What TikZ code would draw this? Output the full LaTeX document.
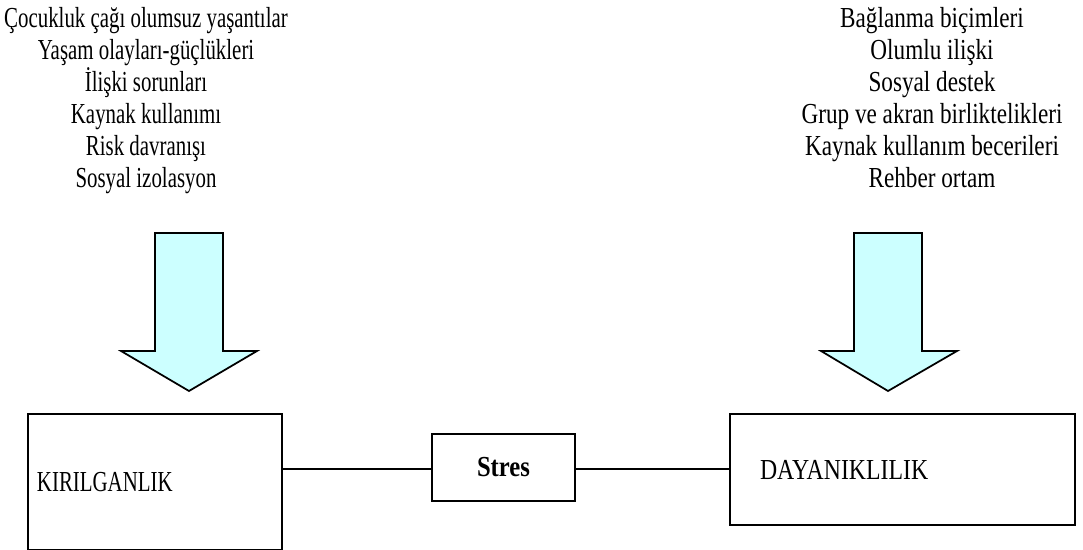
\documentclass[tikz,border=0pt]{standalone}
\usepackage{graphicx}
\usepackage{fontspec}
\setmainfont{Liberation Serif}
\usetikzlibrary{positioning}
\definecolor{arrowcyan}{RGB}{204,255,255}

% text in the figure is set tall and narrow
\newcommand{\narrowtext}[2][0.72]{\scalebox{#1}[1]{#2}}

\tikzstyle{box} = [rectangle, draw, line width=0.8pt, inner ysep=0pt]
\tikzstyle{textblock} = [align=center, inner sep=0pt, anchor=north]
\tikzstyle{bigarrow} = [draw, fill=arrowcyan, line width=0.7pt, line join=miter]

\begin{document}
\begin{tikzpicture}[x=0.4pt, y=-0.4pt, font=\fontsize{11.6}{12.8}\selectfont]
        \useasboundingbox (0,0) rectangle (1083,550);
        % Factor lists on top
        \node (risk) [textblock] at (146,7) {
            \narrowtext{Çocukluk çağı olumsuz yaşantılar}\\
            \narrowtext{Yaşam olayları-güçlükleri}\\
            \narrowtext{İlişki sorunları}\\
            \narrowtext{Kaynak kullanımı}\\
            \narrowtext{Risk davranışı}\\
            \narrowtext{Sosyal izolasyon}};
        \node (koruma) [textblock] at (932,7) {
            \narrowtext[0.8]{Bağlanma biçimleri}\\
            \narrowtext[0.8]{Olumlu ilişki}\\
            \narrowtext[0.8]{Sosyal destek}\\
            \narrowtext[0.8]{Grup ve akran birliktelikleri}\\
            \narrowtext[0.8]{Kaynak kullanım becerileri}\\
            \narrowtext[0.8]{Rehber ortam}};

        % Big arrows
        \draw[bigarrow] (155,233) -- (223,233) -- (223,351) -- (257,351) -- (189,391) -- (121,351) -- (155,351) -- cycle;
        \draw[bigarrow] (854,233) -- (922,233) -- (922,351) -- (957,351) -- (888,391) -- (821,351) -- (854,351) -- cycle;

        % Boxes
        \node (kiril) [box, minimum width=101.6pt, minimum height=54pt, text width=94.4pt, inner xsep=3.6pt, align=left] at (155,482) {\narrowtext{KIRILGANLIK}};
        \node (stres) [box, minimum width=57.2pt, minimum height=26.8pt] at (503.5,467.5) {\narrowtext[0.85]{\bfseries Stres}};
        \node (dayan) [box, minimum width=138pt, minimum height=44.4pt, text width=114pt, inner xsep=12pt, align=left] at (902.5,469.5) {\narrowtext[0.82]{DAYANIKLILIK}};

        \draw[line width=0.8pt] (kiril.east |- dayan.west) -- (stres.west |- dayan.west);
        \draw[line width=0.8pt] (stres.east |- dayan.west) -- (dayan.west);
    \end{tikzpicture}
\end{document}
